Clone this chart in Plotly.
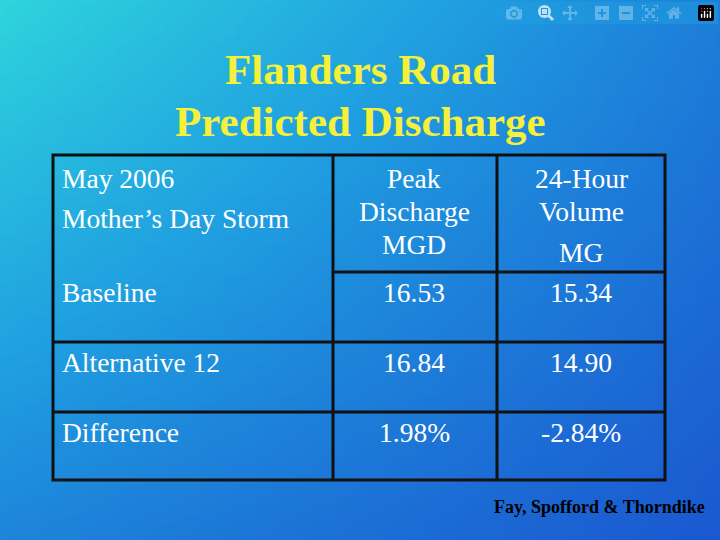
import numpy as np
import plotly.graph_objects as go

title_lines = ["Flanders Road", "Predicted Discharge"]
header_left = ["May 2006", "Mother’s Day Storm"]
header_peak = ["Peak", "Discharge", "MGD"]
header_vol = ["24-Hour", "Volume", "MG"]
row_labels = ["Baseline", "Alternative 12", "Difference"]
peak_values = ["16.53", "16.84", "1.98%"]
volume_values = ["15.34", "14.90", "-2.84%"]

fig = go.Figure()

# fondo degradado
gx = np.linspace(0, 720, 73)
gy = np.linspace(0, 540, 55)
X, Y = np.meshgrid(gx, gy)
Z = 0.35 * X / 720 + 0.65 * Y / 540 + 0.35 * (X / 720) * (1 - Y / 540)
fig.add_trace(go.Heatmap(x=gx, y=gy, z=Z, showscale=False, hoverinfo="skip",
                         colorscale=[[0, "#2ed4dc"], [0.45, "#1f9ee0"], [1, "#1a58d0"]]))

serif = "Liberation Serif"
white = dict(family=serif, size=27.5, color="white")

for i, t in enumerate(title_lines):
    fig.add_annotation(x=360, y=69 + i * 52, text="<b>%s</b>" % t, showarrow=False,
                       font=dict(family=serif, size=43, color="#f5f03a"))

# tabla
L, R, T, B = 53, 665, 155, 480
c1, c2 = 333, 497
rows_y = [272, 342, 412]
line = dict(color="#111111", width=3)
fig.add_shape(type="rect", x0=L, x1=R, y0=T, y1=B, line=line)
for xc in (c1, c2):
    fig.add_shape(type="line", x0=xc, x1=xc, y0=T, y1=B, line=line)
fig.add_shape(type="line", x0=c1, x1=R, y0=rows_y[0], y1=rows_y[0], line=line)
for yr in rows_y[1:]:
    fig.add_shape(type="line", x0=L, x1=R, y0=yr, y1=yr, line=line)

for i, t in enumerate(header_left):
    fig.add_annotation(x=60, y=178 + i * 40, text=t, xanchor="left", showarrow=False, font=white)
for i, t in enumerate(header_peak):
    fig.add_annotation(x=414, y=178 + i * 33, text=t, showarrow=False, font=white)
for t, yy in zip(header_vol, [178, 211, 252]):
    fig.add_annotation(x=581, y=yy, text=t, showarrow=False, font=white)

for i, (lab, p, v) in enumerate(zip(row_labels, peak_values, volume_values)):
    yy = 292 + i * 70
    fig.add_annotation(x=60, y=yy, text=lab, xanchor="left", showarrow=False, font=white)
    fig.add_annotation(x=414, y=yy, text=p, showarrow=False, font=white)
    fig.add_annotation(x=581, y=yy, text=v, showarrow=False, font=white)

fig.add_annotation(x=599, y=507, text="<b>Fay, Spofford & Thorndike</b>", showarrow=False,
                   font=dict(family=serif, size=18, color="black"))

fig.update_xaxes(range=[0, 720], visible=False)
fig.update_yaxes(range=[540, 0], visible=False)
fig.update_layout(width=720, height=540, margin=dict(l=0, r=0, t=0, b=0),
                  showlegend=False, plot_bgcolor="#1f9ee0", paper_bgcolor="#1f9ee0")
fig.write_html("out.html",
               post_script="document.body.style.margin='0';document.body.style.overflow='hidden';")
